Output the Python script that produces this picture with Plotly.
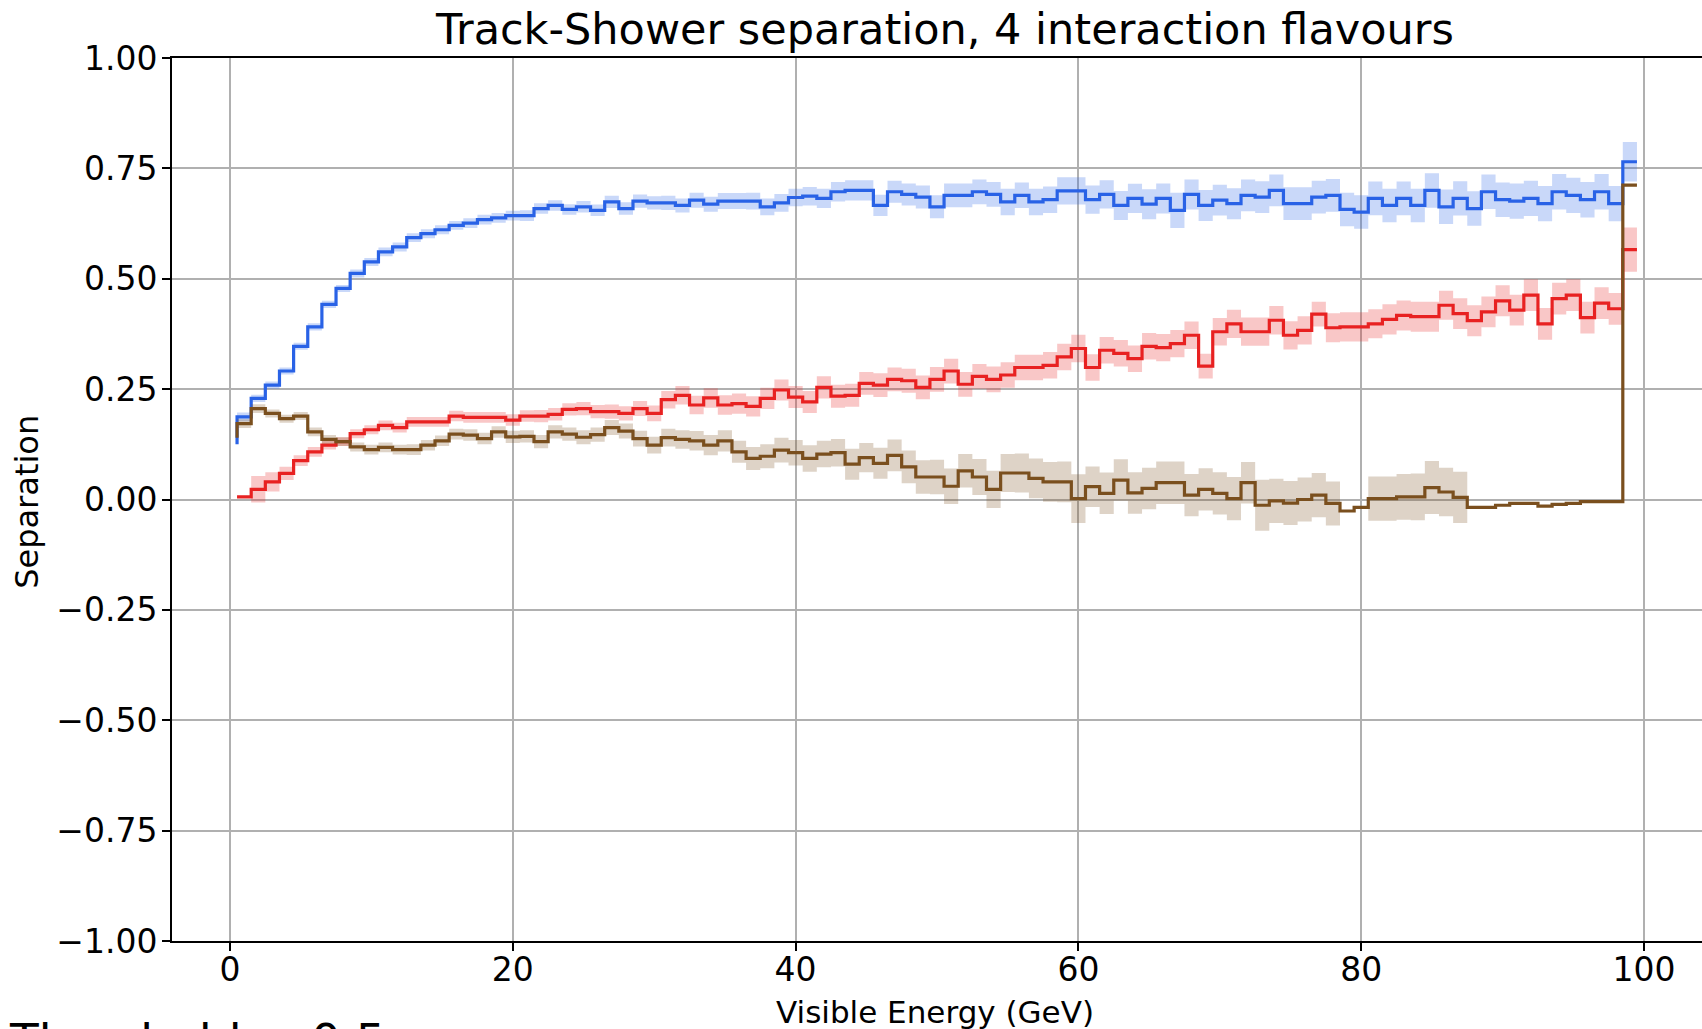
import plotly.graph_objects as go

# Bin edges of visible energy (GeV); value k applies to the bin ending at edge k
energy_edges = [k + 0.5 for k in range(100)]

# Track-shower separation per visible-energy bin, one array per flavour
sep_blue = [
    0.125, 0.187, 0.229, 0.259, 0.291, 0.347, 0.391, 0.442, 0.478, 0.512,
    0.538, 0.561, 0.572, 0.593, 0.602, 0.611, 0.621, 0.626, 0.634, 0.638,
    0.643, 0.643, 0.659, 0.666, 0.657, 0.663, 0.655, 0.674, 0.659, 0.676,
    0.672, 0.672, 0.666, 0.678, 0.669, 0.676, 0.676, 0.676, 0.663, 0.672,
    0.684, 0.687, 0.682, 0.697, 0.700, 0.700, 0.666, 0.697, 0.691, 0.685,
    0.663, 0.689, 0.689, 0.697, 0.691, 0.674, 0.689, 0.674, 0.679, 0.699,
    0.699, 0.679, 0.691, 0.666, 0.682, 0.669, 0.682, 0.655, 0.691, 0.666,
    0.678, 0.670, 0.689, 0.685, 0.700, 0.670, 0.670, 0.685, 0.689, 0.657,
    0.651, 0.682, 0.666, 0.682, 0.666, 0.700, 0.663, 0.682, 0.659, 0.697,
    0.679, 0.676, 0.682, 0.670, 0.697, 0.689, 0.679, 0.697, 0.670, 0.765,
]
err_blue = [
    0.015, 0.010, 0.008, 0.008, 0.008, 0.008, 0.008, 0.008, 0.008, 0.009,
    0.009, 0.010, 0.010, 0.010, 0.010, 0.010, 0.010, 0.011, 0.011, 0.011,
    0.011, 0.012, 0.012, 0.012, 0.012, 0.013, 0.013, 0.014, 0.014, 0.015,
    0.015, 0.016, 0.016, 0.017, 0.017, 0.018, 0.018, 0.019, 0.019, 0.020,
    0.020, 0.021, 0.022, 0.022, 0.023, 0.023, 0.024, 0.025, 0.025, 0.026,
    0.026, 0.027, 0.027, 0.028, 0.028, 0.030, 0.029, 0.030, 0.030, 0.031,
    0.031, 0.032, 0.032, 0.033, 0.033, 0.034, 0.034, 0.040, 0.034, 0.035,
    0.035, 0.035, 0.036, 0.036, 0.036, 0.037, 0.037, 0.037, 0.037, 0.038,
    0.038, 0.038, 0.038, 0.038, 0.038, 0.039, 0.039, 0.039, 0.039, 0.039,
    0.039, 0.040, 0.040, 0.040, 0.040, 0.040, 0.040, 0.040, 0.040, 0.045,
]

sep_red = [
    0.006, 0.006, 0.023, 0.040, 0.059, 0.088, 0.108, 0.123, 0.131, 0.149,
    0.158, 0.168, 0.163, 0.176, 0.176, 0.176, 0.189, 0.186, 0.186, 0.186,
    0.180, 0.189, 0.189, 0.193, 0.204, 0.206, 0.199, 0.199, 0.195, 0.206,
    0.195, 0.226, 0.236, 0.214, 0.230, 0.214, 0.217, 0.211, 0.229, 0.248,
    0.232, 0.221, 0.254, 0.234, 0.236, 0.263, 0.259, 0.272, 0.269, 0.254,
    0.272, 0.291, 0.261, 0.279, 0.272, 0.282, 0.299, 0.299, 0.304, 0.323,
    0.342, 0.299, 0.338, 0.331, 0.319, 0.347, 0.344, 0.353, 0.372, 0.302,
    0.380, 0.398, 0.380, 0.380, 0.406, 0.372, 0.383, 0.420, 0.389, 0.391,
    0.391, 0.398, 0.408, 0.417, 0.414, 0.414, 0.440, 0.421, 0.405, 0.425,
    0.450, 0.429, 0.463, 0.398, 0.455, 0.463, 0.412, 0.445, 0.432, 0.566,
]
err_red = [
    0.000, 0.000, 0.030, 0.022, 0.015, 0.012, 0.011, 0.010, 0.010, 0.010,
    0.010, 0.011, 0.011, 0.011, 0.011, 0.011, 0.012, 0.012, 0.012, 0.012,
    0.013, 0.013, 0.014, 0.014, 0.014, 0.015, 0.015, 0.016, 0.016, 0.017,
    0.018, 0.020, 0.021, 0.021, 0.022, 0.022, 0.023, 0.023, 0.024, 0.024,
    0.025, 0.025, 0.025, 0.026, 0.026, 0.026, 0.027, 0.027, 0.027, 0.027,
    0.028, 0.028, 0.028, 0.028, 0.029, 0.029, 0.029, 0.029, 0.030, 0.030,
    0.031, 0.030, 0.030, 0.030, 0.030, 0.030, 0.031, 0.031, 0.031, 0.028,
    0.031, 0.032, 0.032, 0.032, 0.032, 0.032, 0.032, 0.028, 0.033, 0.033,
    0.033, 0.033, 0.034, 0.034, 0.034, 0.034, 0.033, 0.035, 0.035, 0.035,
    0.035, 0.035, 0.036, 0.036, 0.036, 0.036, 0.036, 0.036, 0.036, 0.050,
]

sep_brown = [
    0.140, 0.172, 0.206, 0.195, 0.183, 0.189, 0.153, 0.136, 0.131, 0.119,
    0.113, 0.118, 0.113, 0.113, 0.123, 0.133, 0.148, 0.146, 0.138, 0.153,
    0.142, 0.143, 0.131, 0.153, 0.148, 0.141, 0.147, 0.163, 0.155, 0.138,
    0.123, 0.140, 0.136, 0.133, 0.123, 0.133, 0.108, 0.093, 0.098, 0.112,
    0.106, 0.093, 0.103, 0.106, 0.080, 0.095, 0.082, 0.100, 0.074, 0.051,
    0.051, 0.030, 0.065, 0.051, 0.023, 0.060, 0.060, 0.048, 0.040, 0.040,
    0.002, 0.029, 0.014, 0.044, 0.015, 0.025, 0.038, 0.038, 0.010, 0.023,
    0.014, 0.002, 0.038, -0.013, -0.003, -0.008, 0.000, 0.010, -0.009, -0.026,
    -0.018, 0.002, 0.002, 0.006, 0.006, 0.027, 0.017, 0.005, -0.018, -0.018,
    -0.013, -0.009, -0.009, -0.015, -0.011, -0.009, -0.005, -0.005, -0.005, 0.712,
]
err_brown = [
    0.010, 0.010, 0.010, 0.009, 0.009, 0.009, 0.010, 0.010, 0.010, 0.010,
    0.011, 0.011, 0.011, 0.012, 0.012, 0.012, 0.012, 0.013, 0.013, 0.013,
    0.014, 0.014, 0.015, 0.015, 0.015, 0.016, 0.016, 0.017, 0.017, 0.018,
    0.019, 0.020, 0.021, 0.022, 0.023, 0.024, 0.025, 0.026, 0.027, 0.028,
    0.029, 0.030, 0.030, 0.031, 0.035, 0.033, 0.035, 0.036, 0.037, 0.038,
    0.039, 0.040, 0.038, 0.041, 0.042, 0.043, 0.044, 0.045, 0.045, 0.046,
    0.055, 0.046, 0.047, 0.047, 0.047, 0.047, 0.048, 0.048, 0.048, 0.048,
    0.048, 0.049, 0.047, 0.058, 0.050, 0.050, 0.050, 0.050, 0.050, 0.000,
    0.000, 0.050, 0.050, 0.052, 0.053, 0.060, 0.055, 0.058, 0.000, 0.000,
    0.000, 0.000, 0.000, 0.000, 0.000, 0.000, 0.000, 0.000, 0.000, 0.000,
]

x_ticks = [0, 20, 40, 60, 80, 100]
y_ticks = [-1.0, -0.75, -0.5, -0.25, 0.0, 0.25, 0.5, 0.75, 1.0]

series = [
    (sep_blue, err_blue, "#2962e6", "rgba(41,98,230,0.25)"),
    (sep_red, err_red, "#e82121", "rgba(232,33,33,0.25)"),
    (sep_brown, err_brown, "#7a4f1e", "rgba(122,79,30,0.25)"),
]

fig = go.Figure()
for vals, errs, line_col, band_col in series:
    lower = [v - e for v, e in zip(vals, errs)]
    upper = [v + e for v, e in zip(vals, errs)]
    fig.add_trace(go.Scatter(x=energy_edges, y=lower, mode="lines",
                             line=dict(width=0, shape="vh"), showlegend=False,
                             hoverinfo="skip"))
    fig.add_trace(go.Scatter(x=energy_edges, y=upper, mode="lines",
                             line=dict(width=0, shape="vh"), fill="tonexty",
                             fillcolor=band_col, showlegend=False,
                             hoverinfo="skip"))
    fig.add_trace(go.Scatter(x=energy_edges, y=vals, mode="lines",
                             line=dict(color=line_col, width=3.2, shape="vh"),
                             showlegend=False))

font_family = "DejaVu Sans"
axis_common = dict(
    showgrid=True, gridcolor="#b0b0b0", gridwidth=1.6,
    zeroline=False, showline=True, linecolor="black", linewidth=1.8,
    ticks="outside", ticklen=8, tickwidth=1.6, tickcolor="black",
    tickfont=dict(family=font_family, size=33, color="black"),
)

fig.update_layout(
    width=1702, height=1029,
    margin=dict(l=172, r=0, t=58, b=88),
    paper_bgcolor="white", plot_bgcolor="white",
    xaxis=dict(range=[-4.1, 104.1], tickvals=x_ticks, mirror=True,
               ticklabelstandoff=-10, **axis_common),
    yaxis=dict(range=[-1, 1], tickvals=y_ticks, tickformat=".2f",
               ticklabelstandoff=-2, **axis_common),
    annotations=[
        dict(text="Track-Shower separation, 4 interaction flavours",
             xref="paper", yref="paper", x=0.505, y=1, xanchor="center",
             yanchor="bottom", yshift=2, showarrow=False,
             font=dict(family=font_family, size=43, color="black")),
        dict(text="Visible Energy (GeV)", xref="paper", yref="paper",
             x=0.4985, y=-0.058, xanchor="center", yanchor="top",
             showarrow=False,
             font=dict(family=font_family, size=31, color="black")),
        dict(text="Separation", xref="paper", yref="paper",
             x=-0.095, y=0.497, xanchor="center", yanchor="middle",
             textangle=-90, showarrow=False,
             font=dict(family=font_family, size=32, color="black")),
        dict(text="Threshold = 0.5", xref="paper", yref="paper",
             x=-0.1078, y=-0.0798, xanchor="left", yanchor="top",
             showarrow=False,
             font=dict(family=font_family, size=47, color="black")),
    ],
)

fig.write_html("out.html")
